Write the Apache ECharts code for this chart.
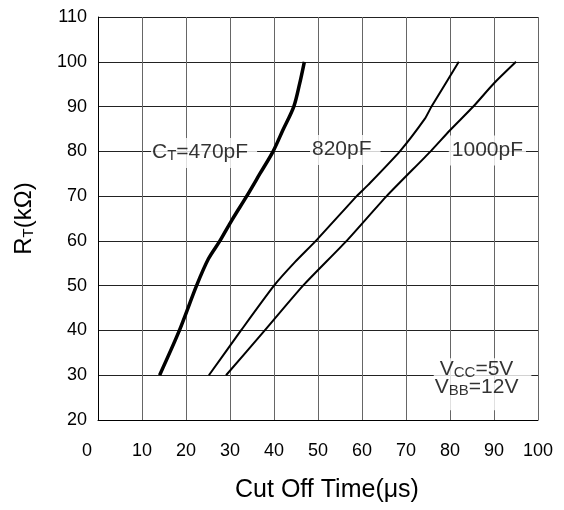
<!DOCTYPE html>
<html>
<head>
<meta charset="utf-8">
<script src="https://cdn.jsdelivr.net/npm/echarts@6/dist/echarts.min.js"></script>
<style>
html,body{margin:0;padding:0;background:#fff;}
#c{width:564px;height:510px;}
</style>
</head>
<body>
<div id="c"></div>
<script>
// Cut off time (µs) vs RT (kΩ) for three CT values
const seriesNames = ['CT=470pF', '820pF', '1000pF'];
const ct470 = [[14.0,30],[18.5,40],[22.4,50],[25.1,56],[27.7,60],[30.4,64.6],[33.8,70],[36.8,75],[39.8,80],[42.0,84.7],[44.5,90],[45.8,95],[46.9,100]];
const ct820 = [[25.2,30],[32.5,40],[40.0,50],[44.8,55.3],[49.5,60],[58.8,70],[61.4,72.5],[68.6,80],[74.3,87.3],[75.8,90],[82.0,100]];
const ct1000 = [[29.1,30],[37.9,40],[46.6,50],[56.5,60],[65.6,70],[75.6,80],[80.0,84.7],[85.3,90],[90.0,95.2],[95.0,100]];
const xTicks = [0,10,20,30,40,50,60,70,80,90,100];
const yTicks = [20,30,40,50,60,70,80,90,100,110];
const noteTexts = ['{m|C}{s|T}{m|=470pF}', '{m|820pF}', '{m|1000pF}', '{m|V}{s|CC}{m|=5V}\n{m|V}{s|BB}{m|=12V}'];

const FONT = '"Liberation Sans", Arial, sans-serif';
const chart = echarts.init(document.getElementById('c'), null, {renderer: 'canvas'});

function richFor(lh) {
  return {
    m: {fontFamily: FONT, fontSize: 21, color: '#000', verticalAlign: 'bottom', lineHeight: lh},
    s: {fontFamily: FONT, fontSize: 15, color: '#000', verticalAlign: 'bottom', lineHeight: lh - 1}
  };
}

function note(x, y, text, pad, lh) {
  return {
    value: [x, y],
    label: {
      show: true, position: 'inside', formatter: text,
      backgroundColor: '#fff', padding: pad, rich: richFor(lh), align: 'center', verticalAlign: 'middle'
    }
  };
}

chart.setOption({
  animation: false,
  backgroundColor: '#fff',
  grid: {left: 98, right: 26, top: 17, bottom: 90, show: false},
  xAxis: {
    type: 'value', min: xTicks[0], max: xTicks[xTicks.length-1], interval: 10,
    name: 'Cut Off Time(\u03bcs)', nameLocation: 'middle', nameGap: 58,
    nameTextStyle: {fontFamily: FONT, fontSize: 25, color: '#000', padding: [0, 0, 0, 18]},
    axisLine: {show: true, lineStyle: {color: '#000', width: 1}},
    axisTick: {show: false},
    axisLabel: {
      fontFamily: FONT, fontSize: 18, color: '#000', margin: 22,
      formatter: function (v) { return v === 0 ? '{z|0}' : String(v); },
      rich: {z: {fontFamily: FONT, fontSize: 18, color: '#000', padding: [0, 22, 0, 0]}}
    },
    splitLine: {show: true, lineStyle: {color: '#666', width: 1}}
  },
  yAxis: {
    type: 'value', min: yTicks[0], max: yTicks[yTicks.length-1], interval: 10,
    name: '{a|R}{b|T}{a|(k\u03a9)}', nameLocation: 'middle', nameGap: 62, nameRotate: 90,
    nameTextStyle: {
      fontFamily: FONT, fontSize: 24, color: '#000',
      rich: {
        a: {fontFamily: FONT, fontSize: 24, color: '#000', verticalAlign: 'bottom', lineHeight: 26},
        b: {fontFamily: FONT, fontSize: 15, color: '#000', verticalAlign: 'bottom', lineHeight: 24}
      }
    },
    axisLine: {show: true, lineStyle: {color: '#000', width: 1}},
    axisTick: {show: false},
    axisLabel: {fontFamily: FONT, fontSize: 18, color: '#000', margin: 11},
    splitLine: {show: true, lineStyle: {color: '#222', width: 1}}
  },
  series: [
    {name: seriesNames[0], type: 'line', data: ct470, showSymbol: false, symbol: 'none', smooth: 0.3,
     lineStyle: {color: '#000', width: 3.5}, z: 3},
    {name: seriesNames[1], type: 'line', data: ct820, showSymbol: false, symbol: 'none', smooth: 0.2,
     lineStyle: {color: '#000', width: 2}, z: 3},
    {name: seriesNames[2], type: 'line', data: ct1000, showSymbol: false, symbol: 'none', smooth: 0.2,
     lineStyle: {color: '#000', width: 2}, z: 3},
    {type: 'scatter', symbolSize: 0, silent: true, z: 2,
     data: [
       note(24.1, 79.6, noteTexts[0], [5, 9, 5, 1], 20),
       note(56.2, 80.3, noteTexts[1], [5, 9, 5, 2], 20),
       note(88.5, 80.2, noteTexts[2], [5, 3, 5, 3], 20),
       note(87.4, 28.0, noteTexts[3], [4, 13, 12, 1], 18)
     ]}
  ]
});
</script>
</body>
</html>
